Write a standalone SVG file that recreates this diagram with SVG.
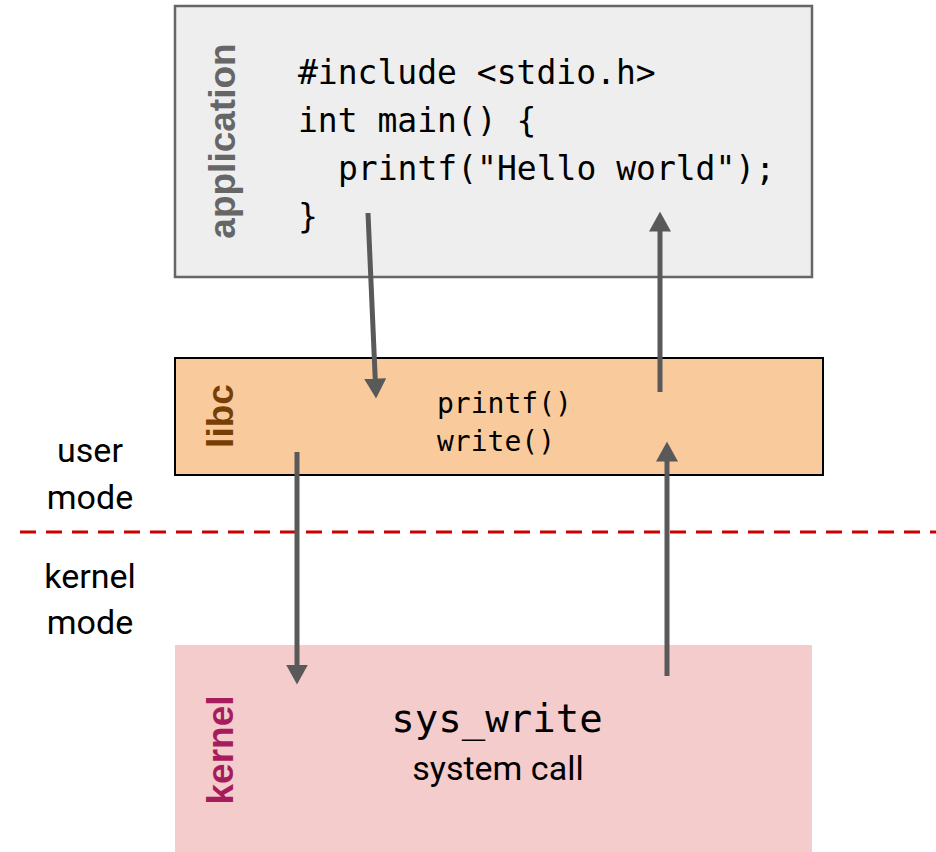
<svg xmlns="http://www.w3.org/2000/svg" width="936" height="852" viewBox="0 0 936 852">
  <style>
    .code { font-family: "DejaVu Sans Mono", "Liberation Mono", monospace; fill: #000; }
    .side { font-family: "Liberation Sans", Arial, sans-serif; font-weight: bold; font-size: 37px; text-anchor: middle; }
    .mode { font-family: Roboto, "Liberation Sans", sans-serif; font-size: 34px; text-anchor: middle; fill: #000; }
    .conn { stroke: #595959; stroke-width: 5; fill: none; marker-end: url(#head); }
  </style>
  <defs>
    <marker id="head" markerUnits="userSpaceOnUse" markerWidth="20" markerHeight="22" viewBox="0 0 18 20" refX="4" refY="10" orient="auto">
      <path d="M0,0 L18,10 L0,20 Z" fill="#595959"/>
    </marker>
  </defs>

  <rect width="936" height="852" fill="#ffffff"/>

  <!-- user / kernel boundary -->
  <g id="boundary">
    <line x1="20" y1="532" x2="936" y2="532" stroke="#cc0000" stroke-width="3" stroke-dasharray="16 10"/>
    <text class="mode" x="90" y="462">user</text>
    <text class="mode" x="90" y="509">mode</text>
    <text class="mode" x="90" y="588">kernel</text>
    <text class="mode" x="90" y="634">mode</text>
  </g>

  <g id="application">
    <rect x="175" y="6" width="637" height="271" fill="#eeeeee" stroke="#666666" stroke-width="2.5"/>
    <text class="side" fill="#666666" transform="translate(235,141) rotate(-90)">application</text>
    <text class="code" font-size="33" x="298" y="84">#include &lt;stdio.h&gt;</text>
    <text class="code" font-size="33" x="298" y="132">int main() {</text>
    <text class="code" font-size="33" x="338" y="180">printf("Hello world");</text>
    <text class="code" font-size="33" x="298" y="228">}</text>
  </g>

  <g id="libc">
    <rect x="175" y="358" width="648" height="117" fill="#f9cb9c" stroke="#000000" stroke-width="2"/>
    <text class="side" fill="#783f04" transform="translate(233,416) rotate(-90)">libc</text>
    <text class="code" font-size="28" x="437" y="413">printf()</text>
    <text class="code" font-size="28" x="437" y="451">write()</text>
  </g>

  <g id="kernel">
    <rect x="175" y="645" width="637" height="207" fill="#f4cccc"/>
    <text class="side" fill="#a61c5c" transform="translate(233,750) rotate(-90)">kernel</text>
    <text class="code" font-size="39" x="497" y="732" text-anchor="middle">sys_write</text>
    <text class="mode" x="498" y="780">system call</text>
  </g>

  <g id="connectors">
    <line class="conn" x1="368" y1="213" x2="375.4" y2="383"/>
    <line class="conn" x1="660" y1="392" x2="660" y2="227"/>
    <line class="conn" x1="297" y1="452" x2="297" y2="669"/>
    <line class="conn" x1="667" y1="676" x2="667" y2="457"/>
  </g>
</svg>
